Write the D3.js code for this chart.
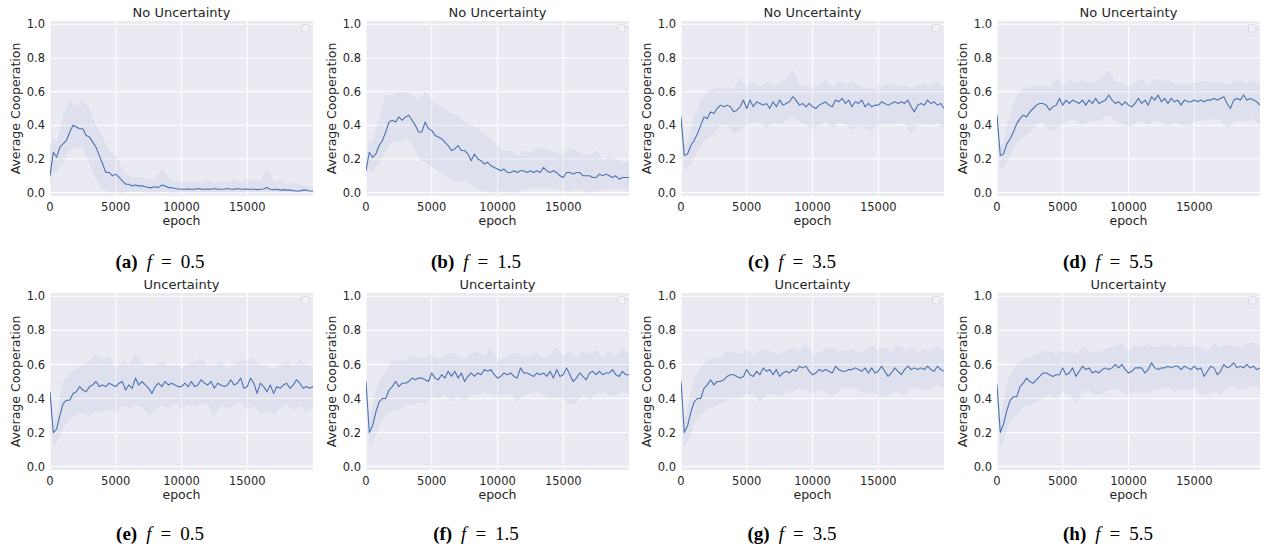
<!DOCTYPE html>
<html>
<head>
<meta charset="utf-8">
<script src="https://cdn.jsdelivr.net/npm/d3@7/dist/d3.min.js"></script>
<style>
html,body{margin:0;padding:0;background:#fff;}
svg{display:block;}
</style>
</head>
<body>
<svg id="chart" width="1264" height="548"></svg>
<script>
// ---------- DATA ----------
const epochs = [
  0,250,500,750,1000,1250,1500,1750,2000,2250,
  2500,2750,3000,3250,3500,3750,4000,4250,4500,4750,
  5000,5250,5500,5750,6000,6250,6500,6750,7000,7250,
  7500,7750,8000,8250,8500,8750,9000,9250,9500,9750,
  10000,10250,10500,10750,11000,11250,11500,11750,12000,12250,
  12500,12750,13000,13250,13500,13750,14000,14250,14500,14750,
  15000,15250,15500,15750,16000,16250,16500,16750,17000,17250,
  17500,17750,18000,18250,18500,18750,19000,19250,19500,19750,
  20000];
const bandEpochs = [
  0,250,500,750,1000,
  1500,2000,2500,3000,3500,4000,4500,5000,5500,6000,
  6500,7000,7500,8000,8500,9000,9500,10000,10500,11000,
  11500,12000,12500,13000,13500,14000,14500,15000,15500,16000,
  16500,17000,17500,18000,18500,19000,19500,20000];

const xTicks = [0, 5000, 10000, 15000];
const yTicks = [0.0, 0.2, 0.4, 0.6, 0.8, 1.0];
const titles = ["No Uncertainty","No Uncertainty","No Uncertainty","No Uncertainty",
                "Uncertainty","Uncertainty","Uncertainty","Uncertainty"];
const captionLetters = ["a","b","c","d","e","f","g","h"];
const fValues = ["0.5","1.5","3.5","5.5","0.5","1.5","3.5","5.5"];
const xLabel = "epoch";
const yLabel = "Average Cooperation";

// mean curves
const meanA = [.10,.24,.21,.27,.29,.31,.36,.40,.39,.38,
  .38,.34,.33,.30,.27,.22,.17,.12,.12,.10,
  .11,.09,.07,.05,.05,.04,.045,.04,.04,.035,
  .03,.03,.035,.03,.045,.04,.03,.03,.025,.022,
  .02,.02,.022,.02,.02,.025,.02,.02,.022,.02,
  .025,.02,.02,.022,.025,.02,.02,.025,.02,.02,
  .022,.02,.02,.018,.02,.022,.03,.02,.018,.02,
  .015,.018,.015,.015,.012,.01,.01,.015,.015,.01,
  .008];
const meanB = [.13,.24,.21,.23,.28,.31,.36,.42,.43,.42,
  .45,.43,.45,.46,.43,.40,.36,.36,.42,.38,
  .37,.34,.33,.32,.30,.28,.25,.26,.28,.25,
  .25,.23,.19,.23,.20,.19,.17,.18,.16,.15,
  .14,.13,.14,.12,.12,.13,.12,.13,.13,.12,
  .13,.12,.13,.12,.15,.13,.12,.13,.12,.10,
  .09,.12,.12,.11,.12,.12,.10,.10,.10,.09,
  .09,.11,.10,.11,.10,.09,.10,.08,.09,.09,
  .09];
const meanC = [.45,.22,.23,.28,.31,.35,.40,.45,.44,.48,
  .47,.50,.52,.51,.52,.51,.48,.49,.51,.55,
  .50,.55,.51,.54,.53,.52,.53,.50,.54,.51,
  .55,.52,.53,.54,.57,.55,.52,.53,.51,.53,
  .51,.50,.52,.53,.54,.52,.51,.55,.54,.56,
  .53,.55,.51,.54,.53,.55,.51,.53,.51,.52,
  .52,.54,.53,.52,.53,.54,.53,.54,.53,.55,
  .51,.48,.52,.53,.52,.55,.53,.54,.52,.53,
  .50];
const meanD = [.46,.22,.23,.29,.32,.36,.41,.44,.46,.45,
  .48,.50,.52,.53,.53,.52,.49,.51,.52,.56,
  .52,.55,.53,.55,.54,.53,.55,.52,.55,.53,
  .56,.53,.54,.55,.58,.55,.53,.54,.52,.54,
  .52,.51,.53,.56,.53,.55,.52,.57,.55,.58,
  .54,.56,.53,.56,.54,.55,.52,.55,.54,.54,
  .55,.54,.55,.54,.55,.55,.56,.55,.56,.57,
  .53,.50,.55,.56,.55,.58,.55,.56,.55,.54,
  .52];
const meanE = [.44,.20,.22,.30,.37,.39,.39,.43,.44,.47,
  .45,.44,.47,.48,.50,.47,.48,.47,.49,.48,
  .47,.49,.50,.45,.48,.46,.52,.48,.50,.48,
  .46,.43,.47,.49,.47,.50,.48,.49,.48,.47,
  .47,.49,.47,.50,.47,.48,.51,.49,.48,.50,
  .46,.49,.48,.47,.48,.51,.48,.49,.52,.46,
  .47,.52,.49,.43,.49,.47,.44,.48,.43,.47,
  .46,.48,.49,.46,.48,.51,.49,.46,.47,.46,
  .47];
const meanF = [.50,.20,.24,.32,.38,.40,.40,.45,.47,.50,
  .47,.49,.49,.50,.52,.51,.52,.52,.51,.50,
  .55,.52,.51,.54,.52,.56,.53,.56,.52,.55,
  .50,.53,.55,.53,.55,.54,.57,.56,.57,.54,
  .52,.53,.55,.54,.55,.53,.52,.58,.55,.55,
  .54,.53,.55,.54,.55,.53,.56,.52,.57,.53,
  .54,.58,.54,.50,.52,.55,.53,.51,.55,.56,
  .54,.56,.54,.55,.55,.57,.54,.53,.56,.54,
  .54];
const meanG = [.50,.20,.24,.32,.38,.40,.40,.46,.48,.51,
  .48,.50,.50,.51,.53,.54,.54,.53,.52,.53,
  .57,.54,.53,.56,.54,.58,.56,.57,.54,.57,
  .53,.55,.56,.55,.57,.56,.59,.58,.59,.56,
  .54,.55,.57,.56,.57,.56,.55,.59,.57,.56,
  .56,.57,.57,.58,.57,.56,.58,.55,.58,.55,
  .56,.59,.56,.53,.55,.58,.56,.54,.57,.59,
  .57,.58,.57,.58,.57,.59,.57,.56,.59,.57,
  .56];
const meanH = [.48,.20,.25,.33,.39,.41,.41,.47,.49,.52,
  .50,.49,.51,.53,.55,.55,.54,.53,.54,.54,
  .58,.54,.55,.58,.53,.56,.59,.57,.58,.55,
  .56,.55,.57,.58,.57,.58,.60,.58,.60,.57,
  .55,.56,.58,.58,.58,.55,.57,.61,.58,.57,
  .58,.58,.59,.58,.59,.59,.57,.59,.58,.57,
  .59,.57,.58,.53,.56,.59,.58,.54,.56,.60,
  .58,.59,.61,.58,.59,.58,.60,.58,.59,.57,
  .58];

// confidence bands (upper / lower)
const upperA = [.28,.33,.30,.38,.45,
  .55,.52,.55,.50,.40,.33,.25,.22,.14,.10,
  .09,.09,.08,.08,.14,.09,.07,.06,.06,.07,
  .06,.08,.06,.07,.06,.08,.06,.08,.07,.07,
  .14,.07,.07,.05,.06,.05,.04,.03];
const lowerA = [.04,.12,.12,.15,.17,
  .25,.27,.27,.17,.08,.02,.005,.0,.0,.005,
  .005,.005,.0,.0,.005,.0,.0,.0,.0,.0,
  .0,.0,.0,.0,.0,.0,.0,.0,.0,.0,
  .0,.0,.0,.0,.0,.0,.0,.0];
const upperB = [.20,.32,.30,.38,.45,
  .58,.58,.60,.60,.58,.55,.60,.55,.52,.50,
  .47,.46,.42,.40,.38,.35,.32,.28,.25,.25,
  .22,.25,.24,.26,.27,.25,.24,.23,.27,.25,
  .23,.22,.25,.20,.22,.20,.18,.18];
const lowerB = [.08,.15,.12,.15,.17,
  .25,.30,.30,.33,.29,.20,.18,.15,.13,.10,
  .07,.06,.07,.05,.02,.01,.0,.0,.01,.0,
  .0,.02,.02,.03,.03,.03,.02,.01,.01,.02,
  .01,.0,.01,.02,.02,.02,.02,.02];
const upperC = [.50,.28,.30,.38,.45,
  .55,.60,.62,.63,.62,.62,.68,.62,.66,.63,
  .66,.63,.65,.68,.73,.64,.63,.62,.64,.67,
  .63,.67,.64,.66,.64,.63,.62,.63,.64,.66,
  .63,.64,.62,.64,.65,.63,.66,.62];
const lowerC = [.40,.13,.15,.17,.20,
  .28,.32,.35,.40,.40,.35,.37,.40,.42,.42,
  .38,.42,.40,.43,.45,.42,.40,.38,.40,.42,
  .38,.42,.41,.37,.40,.38,.37,.40,.41,.41,
  .42,.41,.35,.40,.41,.40,.42,.38];
const upperD = [.50,.28,.30,.40,.47,
  .57,.62,.63,.64,.64,.63,.68,.63,.68,.65,
  .67,.65,.66,.69,.73,.66,.65,.63,.65,.68,
  .64,.68,.66,.67,.65,.64,.64,.65,.66,.66,
  .65,.66,.64,.66,.67,.65,.67,.64];
const lowerD = [.40,.13,.15,.18,.22,
  .30,.33,.36,.41,.42,.36,.38,.41,.43,.43,
  .40,.43,.42,.44,.46,.43,.41,.39,.41,.43,
  .40,.43,.42,.39,.42,.40,.39,.42,.43,.43,
  .44,.43,.37,.42,.43,.42,.44,.40];
const upperE = [.47,.27,.30,.42,.50,
  .55,.58,.60,.62,.66,.63,.65,.58,.62,.60,
  .66,.61,.59,.60,.62,.59,.60,.58,.60,.62,
  .64,.59,.60,.62,.58,.60,.63,.62,.64,.60,
  .59,.57,.60,.62,.59,.63,.60,.58];
const lowerE = [.40,.12,.14,.18,.23,
  .28,.30,.32,.30,.33,.32,.34,.32,.36,.34,
  .36,.35,.30,.33,.36,.34,.37,.34,.36,.35,
  .37,.36,.30,.36,.34,.36,.38,.33,.36,.30,
  .33,.30,.34,.37,.33,.36,.32,.35];
const upperF = [.55,.27,.35,.45,.50,
  .56,.62,.63,.62,.65,.64,.64,.66,.63,.66,
  .67,.65,.63,.66,.68,.65,.70,.63,.64,.66,
  .67,.64,.65,.67,.64,.66,.70,.65,.68,.64,
  .68,.66,.69,.64,.68,.65,.70,.66];
const lowerF = [.45,.12,.15,.18,.24,
  .30,.33,.33,.36,.36,.38,.37,.41,.40,.42,
  .38,.41,.38,.42,.42,.44,.42,.41,.43,.42,
  .38,.42,.43,.44,.42,.40,.41,.40,.36,.38,
  .42,.39,.43,.44,.42,.41,.45,.42];
const upperG = [.55,.27,.35,.45,.52,
  .58,.63,.64,.64,.68,.67,.66,.69,.65,.68,
  .69,.67,.66,.68,.70,.68,.72,.66,.67,.69,
  .70,.68,.68,.69,.67,.68,.71,.68,.70,.67,
  .72,.68,.70,.67,.69,.68,.71,.69];
const lowerG = [.45,.12,.15,.19,.25,
  .30,.34,.35,.37,.39,.40,.40,.43,.42,.38,
  .42,.43,.41,.44,.44,.46,.45,.43,.45,.44,
  .41,.45,.46,.46,.45,.43,.44,.42,.41,.43,
  .44,.42,.46,.47,.45,.45,.48,.46];
const upperH = [.55,.28,.38,.47,.55,
  .60,.63,.64,.66,.68,.68,.66,.68,.67,.66,
  .70,.68,.67,.68,.70,.71,.72,.68,.71,.70,
  .72,.70,.71,.72,.70,.72,.70,.71,.70,.68,
  .73,.70,.72,.71,.70,.72,.73,.70];
const lowerH = [.45,.12,.15,.20,.26,
  .30,.35,.36,.38,.40,.42,.40,.44,.42,.37,
  .44,.45,.42,.43,.45,.46,.44,.42,.45,.43,
  .44,.45,.46,.47,.44,.46,.45,.46,.43,.42,
  .45,.42,.46,.47,.45,.46,.48,.45];

const means = [meanA, meanB, meanC, meanD, meanE, meanF, meanG, meanH];
const uppers = [upperA, upperB, upperC, upperD, upperE, upperF, upperG, upperH];
const lowers = [lowerA, lowerB, lowerC, lowerD, lowerE, lowerF, lowerG, lowerH];

// ---------- LAYOUT ----------
const colLeft = [50, 366, 681, 997];
const plotW = 263;
const rowBox = [{top: 21, bottom: 196}, {top: 293, bottom: 470}];
const captionX = [160, 476, 792, 1108];
const captionY = [268, 540];

const BG = "#EAEAF2", LINE = "#4C72B0", TXT = "#262626";
const font = "'DejaVu Sans', sans-serif";

const svg = d3.select("#chart");
svg.append("rect").attr("width",1264).attr("height",548).attr("fill","#fff");

for (let i = 0; i < 8; i++) {
  const r = Math.floor(i / 4), c = i % 4;
  const left = colLeft[c], right = left + plotW;
  const top = rowBox[r].top, bottom = rowBox[r].bottom;
  const x = d3.scaleLinear().domain([0, 20000]).range([left, right]);
  const y = d3.scaleLinear().domain([-0.02, 1.02]).range([bottom, top]);
  const g = svg.append("g");

  g.append("rect").attr("x", left).attr("y", top)
    .attr("width", right - left).attr("height", bottom - top).attr("fill", BG);

  const clipId = "clip" + i;
  g.append("clipPath").attr("id", clipId).append("rect")
    .attr("x", left).attr("y", top).attr("width", right - left).attr("height", bottom - top);

  // grid
  g.selectAll(".gy").data(yTicks).join("line")
    .attr("x1", left).attr("x2", right)
    .attr("y1", d => y(d)).attr("y2", d => y(d))
    .attr("stroke", "#fff").attr("stroke-width", 1);
  g.selectAll(".gx").data(xTicks).join("line")
    .attr("y1", top).attr("y2", bottom)
    .attr("x1", d => x(d)).attr("x2", d => x(d))
    .attr("stroke", "#fff").attr("stroke-width", 1);

  const inner = g.append("g").attr("clip-path", `url(#${clipId})`);
  const up = uppers[i], lo = lowers[i];
  const bandData = bandEpochs.map((e, k) => ({e, u: up[k], l: lo[k]}))
    .filter(d => d.u !== undefined && d.l !== undefined);
  inner.append("path").datum(bandData)
    .attr("d", d3.area().x(d => x(d.e)).y0(d => y(d.l)).y1(d => y(d.u)))
    .attr("fill", LINE).attr("fill-opacity", 0.075);

  const m = means[i];
  const lineData = epochs.map((e, k) => ({e, v: m[k]})).filter(d => d.v !== undefined);
  inner.append("path").datum(lineData)
    .attr("d", d3.line().x(d => x(d.e)).y(d => y(d.v)))
    .attr("fill", "none").attr("stroke", LINE).attr("stroke-width", 1.1)
    .attr("stroke-linejoin", "round");

  // empty legend box
  g.append("rect").attr("x", right - 11.5).attr("y", top + 3.5)
    .attr("width", 7.5).attr("height", 7.5).attr("rx", 1.5)
    .attr("fill", "rgba(255,255,255,0.3)").attr("stroke", "#d4d4de").attr("stroke-width", 0.8);

  // tick labels
  g.selectAll(".ty").data(yTicks).join("text")
    .attr("x", left - 5).attr("y", d => y(d)).attr("dy", "0.35em")
    .attr("text-anchor", "end").attr("font-family", font).attr("font-size", 11.5)
    .attr("fill", TXT).text(d => d3.format(".1f")(d));
  g.selectAll(".tx").data(xTicks).join("text")
    .attr("x", d => x(d)).attr("y", bottom + 11).attr("dy", "0.35em")
    .attr("text-anchor", "middle").attr("font-family", font).attr("font-size", 11.5)
    .attr("fill", TXT).text(d => d3.format("d")(d));

  // axis labels and title
  g.append("text").attr("x", (left + right) / 2).attr("y", bottom + 25).attr("dy", "0.35em")
    .attr("text-anchor", "middle").attr("font-family", font).attr("font-size", 12.5)
    .attr("fill", TXT).text(xLabel);
  g.append("text")
    .attr("transform", `translate(${left - 34.5},${(top + bottom) / 2}) rotate(-90)`)
    .attr("dy", "0.35em").attr("text-anchor", "middle").attr("font-family", font)
    .attr("font-size", 12.5).attr("fill", TXT).text(yLabel);
  g.append("text").attr("x", (left + right) / 2).attr("y", top - 8.5).attr("dy", "0.35em")
    .attr("text-anchor", "middle").attr("font-family", font).attr("font-size", 13)
    .attr("fill", TXT).text(titles[i]);

  // caption
  const cap = svg.append("text").attr("x", captionX[c]).attr("y", captionY[r])
    .attr("text-anchor", "middle").attr("font-family", "'Liberation Serif', 'DejaVu Serif', serif")
    .attr("font-size", 19).attr("fill", "#000");
  cap.append("tspan").attr("font-weight", "bold").text("(" + captionLetters[i] + ")");
  cap.append("tspan").attr("dx", 9).attr("font-style", "italic").text("f");
  cap.append("tspan").attr("dx", 9).text("=");
  cap.append("tspan").attr("dx", 9).text(fValues[i]);
}
</script>
</body>
</html>
